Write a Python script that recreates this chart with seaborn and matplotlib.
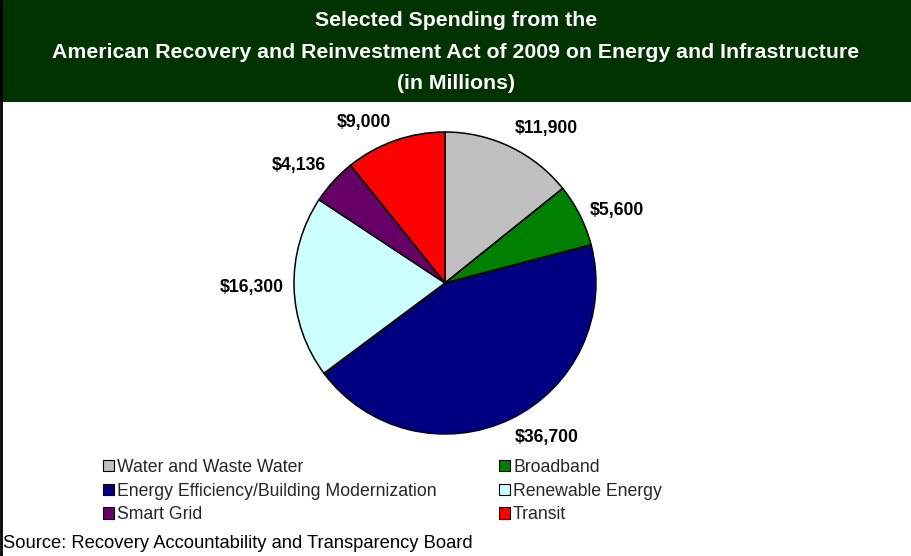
import matplotlib
matplotlib.use('Agg')
import numpy as np
import matplotlib.pyplot as plt
import seaborn as sns
from matplotlib.patches import Rectangle, Patch

# Spending by category (millions of dollars), in pie order
categories = ['Water and Waste Water', 'Broadband', 'Energy Efficiency/Building Modernization',
              'Renewable Energy', 'Smart Grid', 'Transit']
spending = [11900, 5600, 36700, 16300, 4136, 9000]
colors = ['#C0C0C0', '#008000', '#000080', '#CCFFFF', '#660066', '#FF0000']
value_labels = [f"${v:,}" for v in spending]

sns.set_theme(style='white')
plt.rcParams['font.family'] = ['Liberation Sans', 'DejaVu Sans']

fig = plt.figure(figsize=(9.12, 5.56), dpi=100)
W, H = 912, 556

# Title banner
fig.patches.append(Rectangle((0, 1 - 102 / H), 1, 102 / H, transform=fig.transFigure,
                             facecolor='#003300', edgecolor='none', zorder=0))
fig.text(0.5, 1 - 52 / H,
         'Selected Spending from the\n'
         'American Recovery and Reinvestment Act of 2009 on Energy and Infrastructure\n'
         '(in Millions)',
         ha='center', va='center', color='white', fontsize=15.3, fontweight='bold',
         linespacing=1.84)

# left frame line
fig.add_artist(plt.Line2D([0.0015, 0.0015], [0, 1], transform=fig.transFigure,
                          color='black', linewidth=2))

ax = fig.add_axes([294 / W, 122 / H, 302 / W, 302 / H])
wedges, _ = ax.pie(spending, colors=colors, startangle=90, counterclock=False,
                   wedgeprops=dict(edgecolor='black', linewidth=1.1))

# Excel-style outside labels: anchored just outside the wedge, aligned away from the pie
for w, lab in zip(wedges, value_labels):
    ang = np.deg2rad((w.theta1 + w.theta2) / 2)
    c, s = np.cos(ang), np.sin(ang)
    ha = 'left' if c > 0 else 'right'
    va = 'bottom' if s > 0.5 else ('top' if s < -0.5 else 'center')
    ax.text(1.07 * c, 1.07 * s, lab, ha=ha, va=va, fontsize=12.7,
            fontweight='bold', color='black')

ax.set_xlim(-1, 1)
ax.set_ylim(-1, 1)
ax.set_aspect('equal')
ax.axis('off')

# Legend, filled column by column to match the two-column layout
order = [0, 2, 4, 1, 3, 5]
handles = [Patch(facecolor=colors[i], edgecolor='black', linewidth=0.8, label=categories[i])
           for i in order]
fig.legend(handles=handles, ncol=2, loc='upper left', bbox_to_anchor=(94 / W, 1 - 450 / H),
           frameon=False, fontsize=12.7, handlelength=0.62, handleheight=0.62,
           handletextpad=0.2, labelspacing=0.38, columnspacing=3.5, borderpad=0)

fig.text(3 / W, 1 - 543 / H, 'Source: Recovery Accountability and Transparency Board',
         ha='left', va='center', fontsize=13.2, color='black')

fig.savefig('out.png', dpi=100, facecolor='white')
